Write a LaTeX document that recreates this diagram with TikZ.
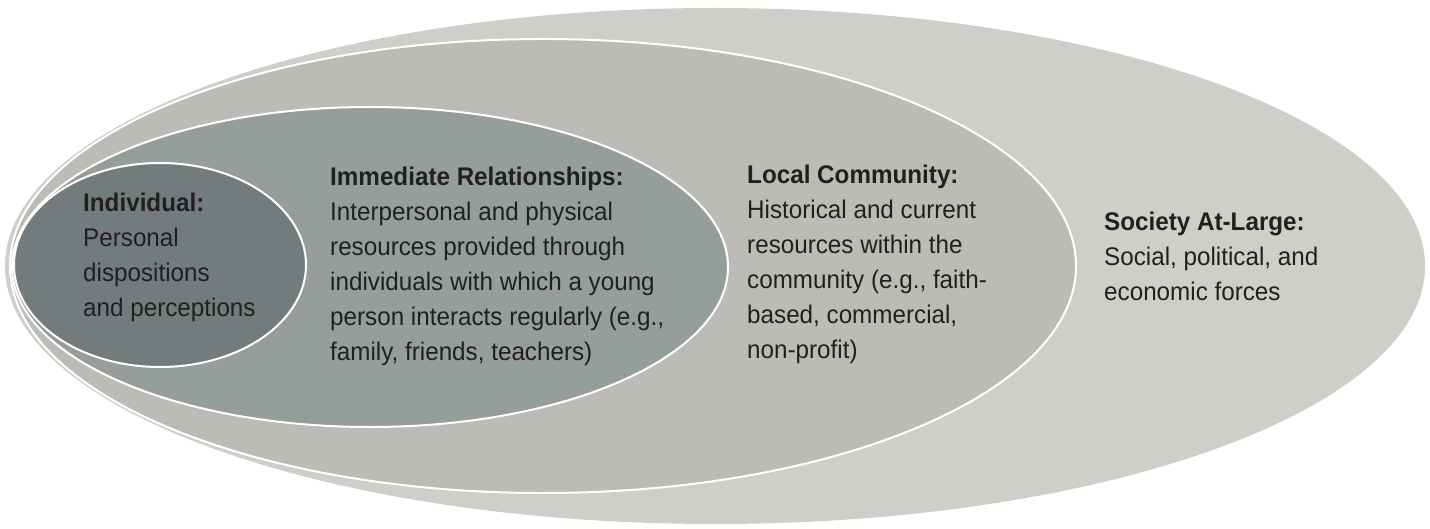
\documentclass[tikz,border=0pt]{standalone}
\usepackage{fontspec}
\setmainfont{Liberation Sans}[FakeStretch=0.95]

\definecolor{societyfill}{HTML}{CFCFCA}
\definecolor{localfill}{HTML}{BCBCB6}
\definecolor{immedfill}{HTML}{959E9A}
\definecolor{indivfill}{HTML}{737C7C}
\definecolor{inkgray}{HTML}{231F20}

\tikzset{
  ring/.style={fill=#1, draw=white, line width=2bp},
  blocktext/.style={anchor=north west, inner sep=0pt, align=left,
    text=inkgray, font=\fontsize{25.6}{35}\selectfont}
}

\begin{document}
\begin{tikzpicture}[x=1bp, y=-1bp]
  \useasboundingbox (0,0) rectangle (1430,529);

  % nested spheres of influence, outermost first
  \path[ring=societyfill, draw=none] (715,266) ellipse [x radius=710bp, y radius=258bp];
  \path[ring=localfill]  (543,266) ellipse [x radius=533bp, y radius=227bp];
  \path[ring=immedfill]  (370,267) ellipse [x radius=358bp, y radius=160bp];
  \path[ring=indivfill]  (160,265) ellipse [x radius=146bp, y radius=102bp];

  % descriptions of each level
  \node[blocktext] (indiv) at (83,193)
    {\textbf{Individual:}\\Personal\\dispositions\\and perceptions};
  \node[blocktext] (immed) at (330,167)
    {\textbf{Immediate Relationships:}\\Interpersonal and physical\\resources provided through\\individuals with which a young\\person interacts regularly (e.g.,\\family, friends, teachers)};
  \node[blocktext] (local) at (747,165)
    {\textbf{Local Community:}\\Historical and current\\resources within the\\community (e.g., faith-\\based, commercial,\\non-profit)};
  \node[blocktext] (society) at (1104,212)
    {\textbf{Society At-Large:}\\Social, political, and\\economic forces};
\end{tikzpicture}
\end{document}
